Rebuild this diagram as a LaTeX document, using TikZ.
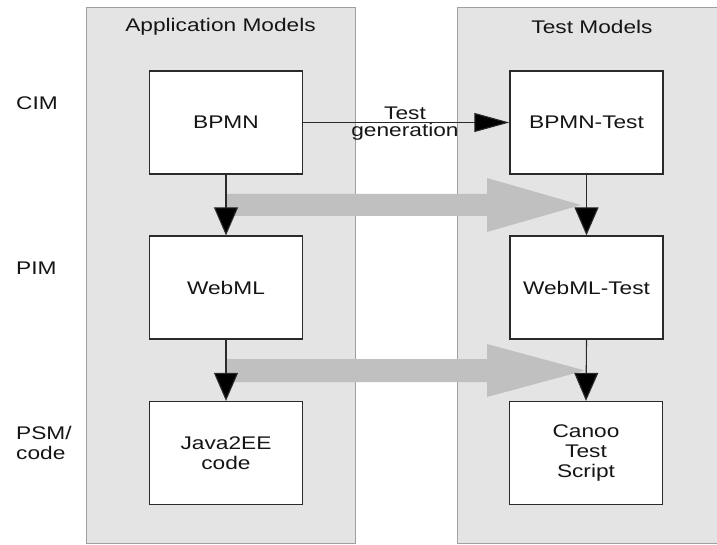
\documentclass[tikz,border=0pt]{standalone}
\usepackage{fontspec}
\setmainfont{Liberation Sans}[FakeStretch=1.24]
\usetikzlibrary{arrows.meta}
\definecolor{panelfill}{HTML}{E4E4E4}
\definecolor{panelline}{HTML}{A0A0A0}
\definecolor{flowgray}{HTML}{C0C0C0}
\definecolor{inkline}{HTML}{2A2A2A}
\definecolor{inktext}{HTML}{151515}
\begin{document}
\begin{tikzpicture}[x=1pt,y=-1pt,
  every node/.style={text=inktext,font=\fontsize{18.3}{20}\selectfont},
  panel/.style={draw=panelline,line width=1pt,fill=panelfill},
  model/.style={draw=inkline,line width=1.3pt,fill=white,minimum width=153pt,
    minimum height=103pt,inner sep=0pt,align=center},
  level/.style={anchor=west,align=left,inner sep=0pt},
  flow/.style={draw=inkline,line width=1.1pt,
    -{Triangle[width=24pt,length=28pt,fill=black]}},
  trafo/.style={fill=flowgray,draw=none}]
\useasboundingbox (0,0) rectangle (717,545);

% swimlanes
\draw[panel] (86,8) rectangle (355,543);
\draw[panel] (457,8) rectangle (720,543);
\node (apptitle) at (220.5,27) {Application Models};
\node (testtitle) at (592,27) {Test Models};

% abstraction levels
\node[level] (cim) at (16,103) {CIM};
\node[level] (pim) at (16,268) {PIM};
\node[level] (psm) at (16,443) {PSM/\\code};

% models
\node[model] (bpmn) at (226,122.5) {BPMN};
\node[model] (bpmnt) at (586.5,122.5) {BPMN-Test};
\node[model] (webml) at (226,287.5) {WebML};
\node[model] (webmlt) at (586.5,287.5) {WebML-Test};
\node[model] (java) at (226,453) {Java2EE\\code};
\node[model] (canoo) at (586,453) {Canoo\\Test\\Script};

% level-to-level transformations carried over to the test side
\fill[trafo] (226,194) -- (487,194) -- (487,178) -- (581,205) -- (487,232)
  -- (487,216) -- (226,216) -- cycle;
\fill[trafo] (226,359) -- (487,359) -- (487,344) -- (585,370.5) -- (487,397)
  -- (487,382) -- (226,382) -- cycle;

% refinement arrows
\draw[flow] (bpmn.south) -- (webml.north);
\draw[flow] (webml.south) -- (java.north);
\draw[flow] (bpmnt.south) -- (webmlt.north);
\draw[flow] (webmlt.south) -- (canoo.north);

% test generation
\draw[draw=inkline,line width=1.1pt,-{Triangle[width=19pt,length=35pt,fill=black]}]
  (bpmn.east) -- (bpmnt.west);
\node[align=center,font=\fontsize{18.3}{17}\selectfont] (gen) at (405,124)
  {Test\\generation};
\end{tikzpicture}
\end{document}
